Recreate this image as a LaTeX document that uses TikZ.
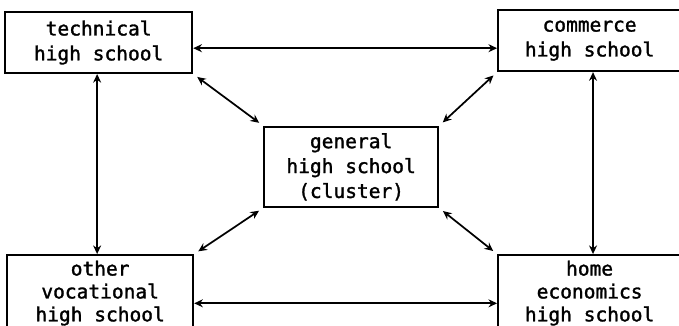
\documentclass[tikz,border=0pt]{standalone}
\usepackage{fontspec}
\setmainfont[FakeBold=1.5]{DejaVu Sans Mono}
\usepackage{tikz}
\usetikzlibrary{arrows.meta, calc, positioning}

\begin{document}
\begin{tikzpicture}[
    school/.style={draw, line width=1.6pt, align=center, inner sep=0pt,
        font=\fontsize{14.7}{18.75}\selectfont},
    top school/.style={school, execute at begin node={\rule{0pt}{22pt}}},
    low school/.style={school, font=\fontsize{14.7}{17.25}\selectfont},
    link/.style={line width=1.3pt, {Stealth[length=6.5pt,width=6pt]}-{Stealth[length=6.5pt,width=6pt]}}
  ]
    \useasboundingbox (0,0) rectangle (17.965,8.625);
    \clip (0,0) rectangle (17.965,8.625);

    % Schools
    \node [top school, minimum width=4.95cm, minimum height=1.61cm] (tech) at (2.61,7.50) {technical\\high school};
    \node [top school, minimum width=4.84cm, minimum height=1.61cm] (comm) at (15.60,7.55) {commerce\\high school};
    \node [school, minimum width=4.60cm, minimum height=2.12cm] (gen) at (9.29,4.21) {general\\high school\\(cluster)};
    \node [low school, minimum width=4.92cm, minimum height=2.01cm] (voc) at (2.65,0.87) {other\\vocational\\high school};
    \node [low school, minimum width=4.84cm, minimum height=2.01cm] (home) at (15.60,0.87) {home\\economics\\high school};

    % Outer ring
    \draw [link] ([yshift=-1.5mm]tech.east) -- ([yshift=-1.5mm]tech.east -| comm.west);
    \draw [link] ([yshift=-2.7mm]voc.east) -- ([yshift=-2.7mm]voc.east -| home.west);
    \draw [link] ([xshift=-0.4mm]tech.south) -- ([xshift=-0.4mm]tech.south |- voc.north);
    \draw [link] ([xshift=0.9mm]comm.south) -- ([xshift=0.9mm]comm.south |- home.north);

    % Links to the cluster
    \draw [link, shorten <=1.3mm, shorten >=1.3mm] (tech.south east) -- (gen.north west);
    \draw [link, shorten <=1.3mm, shorten >=1.3mm] (comm.south west) -- (gen.north east);
    \draw [link, shorten <=1.3mm, shorten >=1.3mm] (voc.north east) -- (gen.south west);
    \draw [link, shorten <=1.3mm, shorten >=1.3mm] (home.north west) -- (gen.south east);
\end{tikzpicture}
\end{document}
